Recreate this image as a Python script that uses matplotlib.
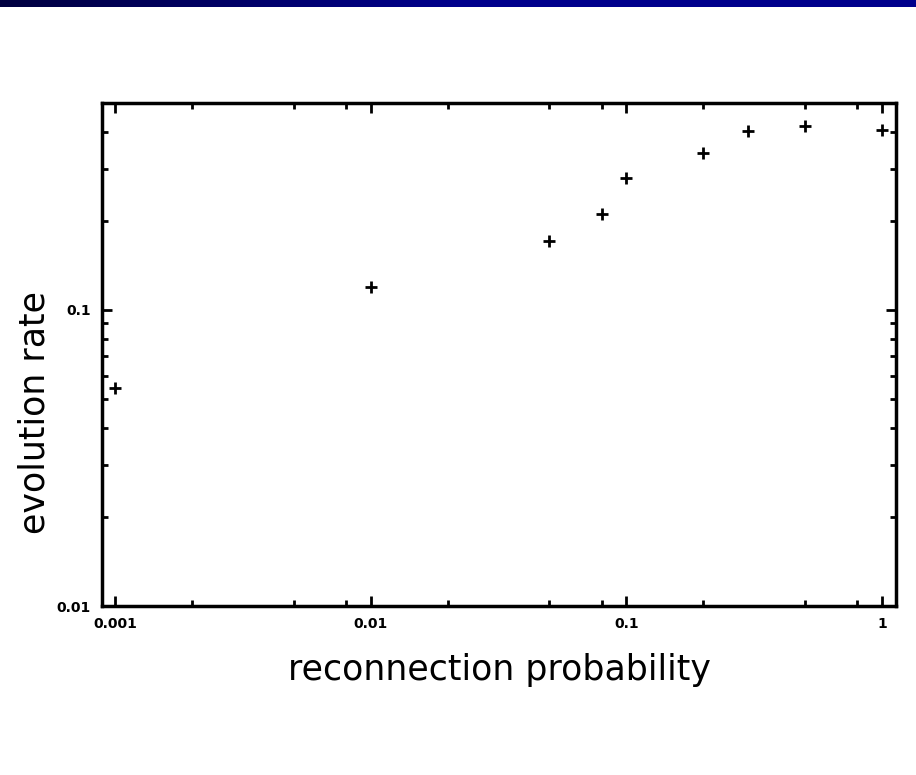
import numpy as np
import matplotlib
matplotlib.use("Agg")
import matplotlib.pyplot as plt
from matplotlib.ticker import LogLocator, FixedLocator, NullFormatter
from matplotlib.colors import LinearSegmentedColormap

# Data
reconnection_prob = [0.001, 0.01, 0.05, 0.08, 0.1, 0.2, 0.3, 0.5, 1.0]
evolution_rate = [0.0546, 0.1195, 0.171, 0.2105, 0.278, 0.338, 0.401, 0.417, 0.404]

x_ticks = [0.001, 0.01, 0.1, 1]
x_tick_labels = ["0.001", "0.01", "0.1", "1"]
y_ticks = [0.01, 0.1]
y_tick_labels = ["0.01", "0.1"]

W, H = 916, 775
fig = plt.figure(figsize=(W / 100, H / 100), dpi=100)
fig.patch.set_facecolor("white")

# Top gradient band
band = fig.add_axes([0, 1 - 7 / H, 1, 7 / H])
grad = np.linspace(0, 1, 256).reshape(1, -1)
cmap = LinearSegmentedColormap.from_list("band", ["#000040", "#00008C", "#00008C"])
band.imshow(grad, aspect="auto", cmap=cmap, extent=[0, 1, 0, 1])
band.set_axis_off()

left, right, top, bottom = 102, 896, 103, 606
ax = fig.add_axes([left / W, 1 - bottom / H, (right - left) / W, (bottom - top) / H])

ax.scatter(reconnection_prob, evolution_rate, marker="+", s=75, c="black", linewidths=2, zorder=5, clip_on=False)

ax.set_xscale("log")
ax.set_yscale("log")
ax.set_xlim(0.00089, 1.134)
ax.set_ylim(0.01, 0.5)

ax.xaxis.set_major_locator(FixedLocator(x_ticks))
ax.set_xticklabels(x_tick_labels)
ax.xaxis.set_minor_locator(LogLocator(base=10, subs=(2.0, 5.0, 8.0)))
ax.xaxis.set_minor_formatter(NullFormatter())
ax.yaxis.set_major_locator(FixedLocator(y_ticks))
ax.set_yticklabels(y_tick_labels)
ax.yaxis.set_minor_locator(LogLocator(base=10, subs=np.arange(2, 10)))
ax.yaxis.set_minor_formatter(NullFormatter())

for s in ax.spines.values():
    s.set_linewidth(2.5)
    s.set_color("black")

ax.tick_params(which="both", direction="in", top=True, right=True, color="black")
ax.tick_params(which="major", length=7, width=2, labelsize=10, pad=8)
ax.tick_params(which="minor", length=4, width=2)
for lbl in ax.get_xticklabels() + ax.get_yticklabels():
    lbl.set_fontweight("bold")

ax.set_xlabel("reconnection probability", fontsize=25, labelpad=16)
ax.set_ylabel("evolution rate", fontsize=25)
ax.yaxis.set_label_coords(-(left - 52) / (right - left), (bottom - 413) / (bottom - top))

fig.savefig("out.png", dpi=100)
